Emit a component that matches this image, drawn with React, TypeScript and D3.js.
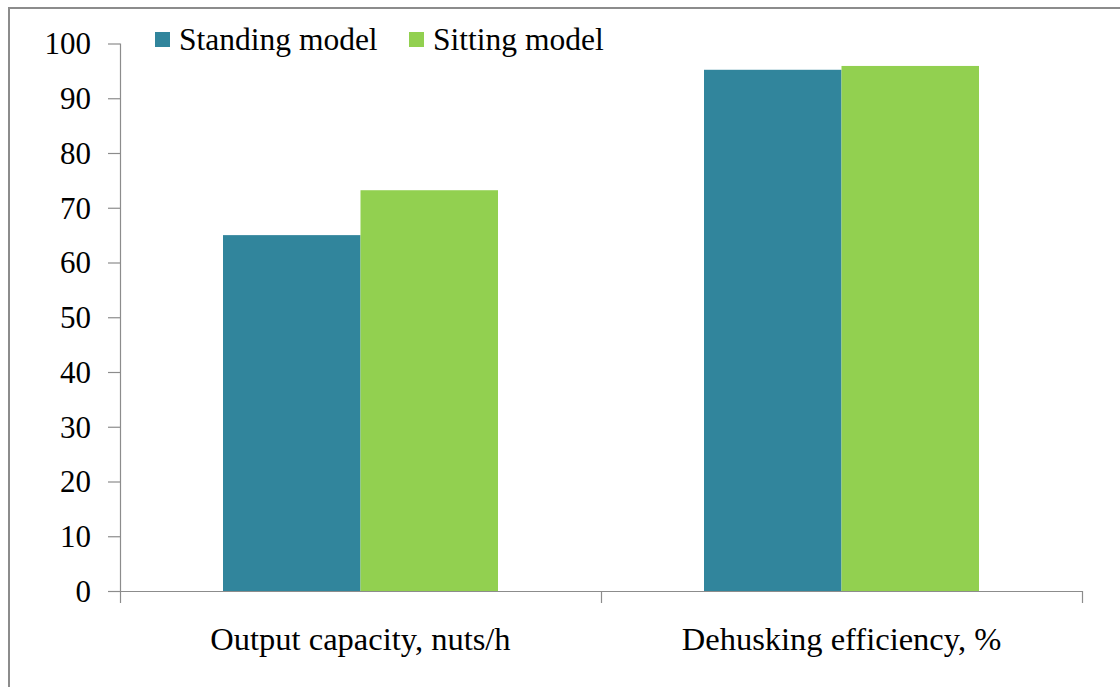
import React, { useEffect, useRef } from "react";
import * as d3 from "d3";

const categories = ["Output capacity, nuts/h", "Dehusking efficiency, %"];
const seriesNames = ["Standing model", "Sitting model"];
const standingValues = [65.0, 95.2];
const sittingValues = [73.2, 95.9];
const yTicks = [0, 10, 20, 30, 40, 50, 60, 70, 80, 90, 100];
const colors = ["#31859C", "#92D050"];

const W = 1120;
const H = 687;

const App = () => {
  const ref = useRef<SVGSVGElement>(null);

  useEffect(() => {
    const svg = d3.select(ref.current);
    svg.selectAll("*").remove();

    const left = 120;
    const right = 1082;
    const top = 43.5;
    const bottom = 591;
    const font = "'Liberation Serif', 'Times New Roman', serif";

    // outer frame (right/bottom edges fall off the picture)
    svg
      .append("rect")
      .attr("x", 9)
      .attr("y", 8)
      .attr("width", W + 20)
      .attr("height", H + 20)
      .attr("fill", "white")
      .attr("stroke", "#8c8c8c")
      .attr("stroke-width", 2);

    const x = d3.scaleBand().domain(categories).range([left, right]).padding(0);
    const y = d3.scaleLinear().domain([0, 100]).range([bottom, top]);

    const bw = x.bandwidth() * (137.5 / 481);
    const series = [standingValues, sittingValues];

    series.forEach((vals, si) => {
      svg
        .append("g")
        .selectAll("rect")
        .data(vals)
        .enter()
        .append("rect")
        .attr("x", (d, i) => x(categories[i])! + x.bandwidth() / 2 - bw + si * bw)
        .attr("y", (d) => y(d))
        .attr("width", bw)
        .attr("height", (d) => bottom - y(d))
        .attr("fill", colors[si]);
    });

    const axisColor = "#8c8c8c";

    // y axis
    svg
      .append("line")
      .attr("x1", left + 0.5)
      .attr("x2", left + 0.5)
      .attr("y1", top)
      .attr("y2", bottom)
      .attr("stroke", axisColor)
      .attr("stroke-width", 1.2);

    const yt = svg.append("g");
    yTicks.forEach((t) => {
      yt.append("line")
        .attr("x1", left - 12)
        .attr("x2", left)
        .attr("y1", y(t) + 0.5)
        .attr("y2", y(t) + 0.5)
        .attr("stroke", axisColor)
        .attr("stroke-width", 1.2);
      yt.append("text")
        .attr("x", 91)
        .attr("y", y(t))
        .attr("dy", "0.35em")
        .attr("text-anchor", "end")
        .attr("font-family", font)
        .attr("font-size", 31)
        .attr("fill", "#000")
        .text(t);
    });

    // x axis
    svg
      .append("line")
      .attr("x1", left)
      .attr("x2", right)
      .attr("y1", bottom + 0.5)
      .attr("y2", bottom + 0.5)
      .attr("stroke", axisColor)
      .attr("stroke-width", 1.2);

    const xt = [left, ...categories.map((c) => x(c)! + x.bandwidth())];
    xt.forEach((px) => {
      svg
        .append("line")
        .attr("x1", px + 0.5)
        .attr("x2", px + 0.5)
        .attr("y1", bottom)
        .attr("y2", bottom + 12)
        .attr("stroke", axisColor)
        .attr("stroke-width", 1.2);
    });

    categories.forEach((c) => {
      svg
        .append("text")
        .attr("x", x(c)! + x.bandwidth() / 2)
        .attr("y", 650)
        .attr("text-anchor", "middle")
        .attr("font-family", font)
        .attr("font-size", 32.5)
        .attr("fill", "#000")
        .text(c);
    });

    // legend
    const legendX = [155, 409];
    seriesNames.forEach((name, i) => {
      svg
        .append("rect")
        .attr("x", legendX[i])
        .attr("y", 32)
        .attr("width", 15)
        .attr("height", 15)
        .attr("fill", colors[i]);
      svg
        .append("text")
        .attr("x", legendX[i] + 24)
        .attr("y", 50)
        .attr("font-family", font)
        .attr("font-size", 31.5)
        .attr("fill", "#000")
        .text(name);
    });
  }, []);

  return (
    <svg
      ref={ref}
      width={W}
      height={H}
      style={{ position: "absolute", left: 0, top: 0, background: "white" }}
    />
  );
};

export default App;
